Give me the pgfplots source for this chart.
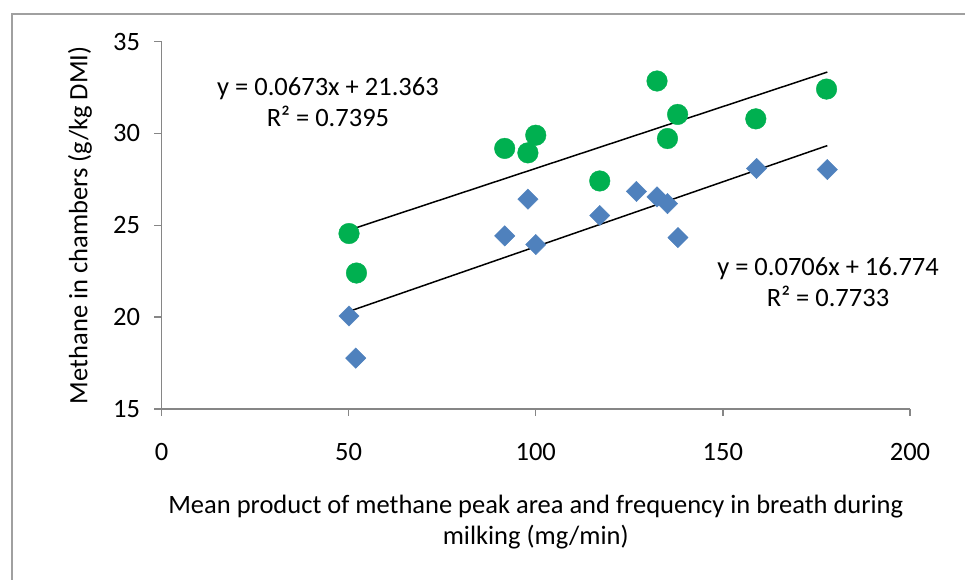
\documentclass[border=0pt]{standalone}
\usepackage{fontspec}
\setmainfont{Carlito}
\usepackage{pgfplots}
\pgfplotsset{compat=1.18}
\definecolor{ptgreen}{HTML}{00B050}
\definecolor{ptblue}{HTML}{4F81BD}
\definecolor{axgray}{HTML}{868686}
\definecolor{framegray}{HTML}{A0A0A0}
\newcommand{\chartfont}{\fontsize{26.5}{31}\selectfont}
\begin{document}
\begin{tikzpicture}[x=1pt,y=1pt]
\path[use as bounding box] (0,0) rectangle (965,580);
% chart area border (top and left edges)
\draw[framegray, line width=2pt] (12,0) -- (12,566) -- (965,566);
\begin{axis}[
  at={(161.5pt,171pt)}, anchor=south west,
  scale only axis, width=748.5pt, height=367.5pt,
  xmin=0, xmax=200, ymin=15, ymax=35,
  xtick={0,50,...,200}, ytick={15,20,...,35},
  axis x line*=bottom, axis y line*=left,
  axis line style={-, axgray, line width=1.3pt},
  tick align=outside, major tick length=7pt,
  tick style={axgray, line width=1.3pt},
  ticklabel style={font=\chartfont, text=black},
  xticklabel style={yshift=-24pt},
  yticklabel style={xshift=-11pt},
  /pgf/number format/assume math mode=true,
  xlabel={Mean product of methane peak area and frequency in breath during\\milking (mg/min)},
  xlabel style={at={(axis description cs:0.5,-0.3075)}, anchor=center, align=center, font=\chartfont},
  ylabel={Methane in chambers (g/kg DMI)},
  ylabel style={at={(axis description cs:-0.1089,0.5)}, anchor=center, font=\chartfont},
  clip=false,
]
% chamber measurements, first group
\addplot[only marks, mark=*, mark size=10.3pt, color=ptgreen, mark options={draw=ptgreen, fill=ptgreen}]
  coordinates {
    (50.1,24.55) (52.1,22.40) (91.7,29.18) (97.9,28.94) (100.0,29.90)
    (117.1,27.41) (132.4,32.85) (135.2,29.72) (137.9,31.03) (158.8,30.79)
    (177.7,32.41)
  };
% chamber measurements, second group
\addplot[only marks, mark=square*, mark size=7.2pt, color=ptblue, mark options={rotate=45, draw=ptblue, fill=ptblue}]
  coordinates {
    (50.1,20.06) (51.9,17.77) (91.7,24.42) (97.9,26.42) (100.0,23.95)
    (117.1,25.53) (126.9,26.84) (132.4,26.54) (135.2,26.18) (138.0,24.33)
    (159.0,28.09) (177.9,28.03)
  };
% linear trend lines: y = 0.0673x + 21.363 and y = 0.0706x + 16.774
\addplot[black, line width=1.5pt, no marks] coordinates {(50.1,24.735) (177.9,33.336)};
\addplot[black, line width=1.5pt, no marks] coordinates {(50.1,20.311) (177.9,29.334)};
\node[align=center, font=\chartfont] at (axis description cs:0.2224,0.834) {y = 0.0673x + 21.363\\R² = 0.7395};
\node[align=center, font=\chartfont] at (axis description cs:0.8905,0.3456) {y = 0.0706x + 16.774\\R² = 0.7733};
\end{axis}
\end{tikzpicture}
\end{document}
